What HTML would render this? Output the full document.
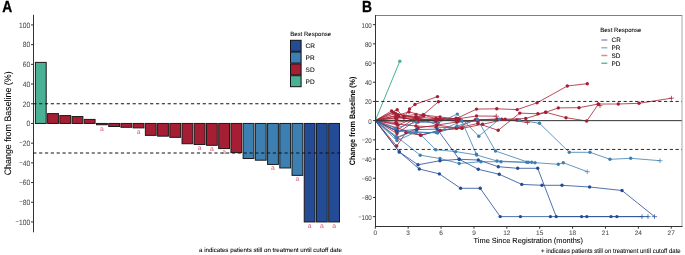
<!DOCTYPE html>
<html><head><meta charset="utf-8"><style>
html,body{margin:0;padding:0;background:#fff;width:685px;height:255px;overflow:hidden}
svg{display:block;font-family:"Liberation Sans", sans-serif;will-change:transform;text-rendering:geometricPrecision}
</style></head><body>
<svg width="685" height="255" viewBox="0 0 685 255">
<rect width="685" height="255" fill="#fff"/>
<text transform="translate(2.30,11.70) scale(0.86,1)" font-size="16" font-weight="bold" fill="#000" stroke="#000" stroke-width="0.35">A</text>
<line x1="33.5" y1="14.8" x2="33.5" y2="232.3" stroke="#333333" stroke-width="1.0"/>
<line x1="31.0" y1="24.95" x2="33.5" y2="24.95" stroke="#333333" stroke-width="1.0"/>
<text transform="translate(30.20,27.70) scale(0.87,1)" font-size="7.7" fill="#4D4D4D" stroke="#4D4D4D" stroke-width="0.06" text-anchor="end">100</text>
<line x1="31.0" y1="44.65" x2="33.5" y2="44.65" stroke="#333333" stroke-width="1.0"/>
<text transform="translate(30.20,47.40) scale(0.87,1)" font-size="7.7" fill="#4D4D4D" stroke="#4D4D4D" stroke-width="0.06" text-anchor="end">80</text>
<line x1="31.0" y1="64.35" x2="33.5" y2="64.35" stroke="#333333" stroke-width="1.0"/>
<text transform="translate(30.20,67.10) scale(0.87,1)" font-size="7.7" fill="#4D4D4D" stroke="#4D4D4D" stroke-width="0.06" text-anchor="end">60</text>
<line x1="31.0" y1="84.05" x2="33.5" y2="84.05" stroke="#333333" stroke-width="1.0"/>
<text transform="translate(30.20,86.80) scale(0.87,1)" font-size="7.7" fill="#4D4D4D" stroke="#4D4D4D" stroke-width="0.06" text-anchor="end">40</text>
<line x1="31.0" y1="103.75" x2="33.5" y2="103.75" stroke="#333333" stroke-width="1.0"/>
<text transform="translate(30.20,106.50) scale(0.87,1)" font-size="7.7" fill="#4D4D4D" stroke="#4D4D4D" stroke-width="0.06" text-anchor="end">20</text>
<line x1="31.0" y1="123.45" x2="33.5" y2="123.45" stroke="#333333" stroke-width="1.0"/>
<text transform="translate(30.20,126.20) scale(0.87,1)" font-size="7.7" fill="#4D4D4D" stroke="#4D4D4D" stroke-width="0.06" text-anchor="end">0</text>
<line x1="31.0" y1="143.15" x2="33.5" y2="143.15" stroke="#333333" stroke-width="1.0"/>
<text transform="translate(30.20,145.90) scale(0.87,1)" font-size="7.7" fill="#4D4D4D" stroke="#4D4D4D" stroke-width="0.06" text-anchor="end"><tspan font-size="6.8" dy="-0.75">−</tspan><tspan dy="0.75">20</tspan></text>
<line x1="31.0" y1="162.85" x2="33.5" y2="162.85" stroke="#333333" stroke-width="1.0"/>
<text transform="translate(30.20,165.60) scale(0.87,1)" font-size="7.7" fill="#4D4D4D" stroke="#4D4D4D" stroke-width="0.06" text-anchor="end"><tspan font-size="6.8" dy="-0.75">−</tspan><tspan dy="0.75">40</tspan></text>
<line x1="31.0" y1="182.55" x2="33.5" y2="182.55" stroke="#333333" stroke-width="1.0"/>
<text transform="translate(30.20,185.30) scale(0.87,1)" font-size="7.7" fill="#4D4D4D" stroke="#4D4D4D" stroke-width="0.06" text-anchor="end"><tspan font-size="6.8" dy="-0.75">−</tspan><tspan dy="0.75">60</tspan></text>
<line x1="31.0" y1="202.25" x2="33.5" y2="202.25" stroke="#333333" stroke-width="1.0"/>
<text transform="translate(30.20,205.00) scale(0.87,1)" font-size="7.7" fill="#4D4D4D" stroke="#4D4D4D" stroke-width="0.06" text-anchor="end"><tspan font-size="6.8" dy="-0.75">−</tspan><tspan dy="0.75">80</tspan></text>
<line x1="31.0" y1="221.95" x2="33.5" y2="221.95" stroke="#333333" stroke-width="1.0"/>
<text transform="translate(30.20,224.70) scale(0.87,1)" font-size="7.7" fill="#4D4D4D" stroke="#4D4D4D" stroke-width="0.06" text-anchor="end"><tspan font-size="6.8" dy="-0.75">−</tspan><tspan dy="0.75">100</tspan></text>
<text transform="translate(11.00,123.35) rotate(-90) scale(0.945,1)" font-size="9.4" fill="#000" stroke="#000" stroke-width="0.06" text-anchor="middle">Change from Baseline (%)</text>
<rect x="35.40" y="62.38" width="10.80" height="61.07" fill="#4BB194" stroke="#1a1a1a" stroke-width="1"/>
<rect x="47.62" y="113.60" width="10.80" height="9.85" fill="#A61E34" stroke="#1a1a1a" stroke-width="1"/>
<rect x="59.84" y="115.57" width="10.80" height="7.88" fill="#A61E34" stroke="#1a1a1a" stroke-width="1"/>
<rect x="72.06" y="116.56" width="10.80" height="6.89" fill="#A61E34" stroke="#1a1a1a" stroke-width="1"/>
<rect x="84.28" y="119.41" width="10.80" height="4.04" fill="#A61E34" stroke="#1a1a1a" stroke-width="1"/>
<rect x="96.50" y="123.45" width="10.80" height="1.28" fill="#A61E34" stroke="#1a1a1a" stroke-width="1"/>
<rect x="108.72" y="123.45" width="10.80" height="3.05" fill="#A61E34" stroke="#1a1a1a" stroke-width="1"/>
<rect x="120.94" y="123.45" width="10.80" height="3.84" fill="#A61E34" stroke="#1a1a1a" stroke-width="1"/>
<rect x="133.16" y="123.45" width="10.80" height="4.43" fill="#A61E34" stroke="#1a1a1a" stroke-width="1"/>
<rect x="145.38" y="123.45" width="10.80" height="11.92" fill="#A61E34" stroke="#1a1a1a" stroke-width="1"/>
<rect x="157.60" y="123.45" width="10.80" height="12.71" fill="#A61E34" stroke="#1a1a1a" stroke-width="1"/>
<rect x="169.82" y="123.45" width="10.80" height="13.89" fill="#A61E34" stroke="#1a1a1a" stroke-width="1"/>
<rect x="182.04" y="123.45" width="10.80" height="20.29" fill="#A61E34" stroke="#1a1a1a" stroke-width="1"/>
<rect x="194.26" y="123.45" width="10.80" height="21.08" fill="#A61E34" stroke="#1a1a1a" stroke-width="1"/>
<rect x="206.48" y="123.45" width="10.80" height="21.87" fill="#A61E34" stroke="#1a1a1a" stroke-width="1"/>
<rect x="218.70" y="123.45" width="10.80" height="25.12" fill="#A61E34" stroke="#1a1a1a" stroke-width="1"/>
<rect x="230.92" y="123.45" width="10.80" height="29.16" fill="#A61E34" stroke="#1a1a1a" stroke-width="1"/>
<rect x="243.14" y="123.45" width="10.80" height="35.07" fill="#3E7FB1" stroke="#1a1a1a" stroke-width="1"/>
<rect x="255.36" y="123.45" width="10.80" height="36.74" fill="#3E7FB1" stroke="#1a1a1a" stroke-width="1"/>
<rect x="267.58" y="123.45" width="10.80" height="40.98" fill="#3E7FB1" stroke="#1a1a1a" stroke-width="1"/>
<rect x="279.80" y="123.45" width="10.80" height="44.52" fill="#3E7FB1" stroke="#1a1a1a" stroke-width="1"/>
<rect x="292.02" y="123.45" width="10.80" height="51.91" fill="#3E7FB1" stroke="#1a1a1a" stroke-width="1"/>
<rect x="304.24" y="123.45" width="10.80" height="98.50" fill="#244C96" stroke="#1a1a1a" stroke-width="1"/>
<rect x="316.46" y="123.45" width="10.80" height="98.50" fill="#244C96" stroke="#1a1a1a" stroke-width="1"/>
<rect x="328.68" y="123.45" width="10.80" height="98.50" fill="#244C96" stroke="#1a1a1a" stroke-width="1"/>
<text transform="translate(101.90,130.63) scale(1.0,1)" font-size="6.8" fill="#DA5A72" text-anchor="middle">a</text>
<text transform="translate(138.56,133.78) scale(1.0,1)" font-size="6.8" fill="#DA5A72" text-anchor="middle">a</text>
<text transform="translate(199.66,150.43) scale(1.0,1)" font-size="6.8" fill="#DA5A72" text-anchor="middle">a</text>
<text transform="translate(211.88,151.22) scale(1.0,1)" font-size="6.8" fill="#DA5A72" text-anchor="middle">a</text>
<text transform="translate(224.10,154.47) scale(1.0,1)" font-size="6.8" fill="#DA5A72" text-anchor="middle">a</text>
<text transform="translate(272.98,170.33) scale(1.0,1)" font-size="6.8" fill="#DA5A72" text-anchor="middle">a</text>
<text transform="translate(297.42,181.26) scale(1.0,1)" font-size="6.8" fill="#DA5A72" text-anchor="middle">a</text>
<text transform="translate(309.64,227.85) scale(1.0,1)" font-size="6.8" fill="#DA5A72" text-anchor="middle">a</text>
<text transform="translate(321.86,227.85) scale(1.0,1)" font-size="6.8" fill="#DA5A72" text-anchor="middle">a</text>
<text transform="translate(334.08,227.85) scale(1.0,1)" font-size="6.8" fill="#DA5A72" text-anchor="middle">a</text>
<line x1="33.26" y1="103.75" x2="340.4" y2="103.75" stroke="#111" stroke-width="1.0" stroke-dasharray="3.2 2.643"/>
<line x1="33.26" y1="153.00" x2="340.4" y2="153.00" stroke="#111" stroke-width="1.0" stroke-dasharray="3.2 2.643"/>
<text transform="translate(290.20,35.70) scale(1.0,1)" font-size="6.05" fill="#000" stroke="#000" stroke-width="0.06">Best Response</text>
<rect x="290.5" y="40.30" width="10.6" height="11.0" fill="#244C96" stroke="#111" stroke-width="1"/>
<text transform="translate(305.60,48.10) scale(1.0,1)" font-size="6.5" fill="#000" stroke="#000" stroke-width="0.06">CR</text>
<rect x="290.5" y="52.10" width="10.6" height="11.0" fill="#3E7FB1" stroke="#111" stroke-width="1"/>
<text transform="translate(305.60,59.90) scale(1.0,1)" font-size="6.5" fill="#000" stroke="#000" stroke-width="0.06">PR</text>
<rect x="290.5" y="63.90" width="10.6" height="11.0" fill="#A61E34" stroke="#111" stroke-width="1"/>
<text transform="translate(305.60,71.70) scale(1.0,1)" font-size="6.5" fill="#000" stroke="#000" stroke-width="0.06">SD</text>
<rect x="290.5" y="75.70" width="10.6" height="11.0" fill="#4BB194" stroke="#111" stroke-width="1"/>
<text transform="translate(305.60,83.50) scale(1.0,1)" font-size="6.5" fill="#000" stroke="#000" stroke-width="0.06">PD</text>
<text transform="translate(199.00,252.00) scale(1.0,1)" font-size="6.17" fill="#000" stroke="#000" stroke-width="0.06">a indicates patients still on treatment until cutoff date</text>
<text transform="translate(362.10,11.50) scale(0.86,1)" font-size="16" font-weight="bold" fill="#000" stroke="#000" stroke-width="0.35">B</text>
<line x1="375.5" y1="15.5" x2="682.3" y2="15.5" stroke="#7f7f7f" stroke-width="1"/>
<line x1="682.0" y1="15.5" x2="682.0" y2="226.5" stroke="#a8a8a8" stroke-width="1"/>
<polyline points="375.3,120.5 399.8,61.3" fill="none" stroke="#4BB194" stroke-width="1.0" stroke-linejoin="round"/>
<polyline points="375.3,120.5 391.6,110.9 398.4,116.2 416.0,116.8 423.0,115.0 438.4,101.8" fill="none" stroke="#A61E34" stroke-width="0.8" stroke-linejoin="round"/>
<polyline points="375.3,120.5 397.2,109.7 404.0,118.0 409.5,108.9 415.0,104.4 437.5,96.6" fill="none" stroke="#A61E34" stroke-width="0.8" stroke-linejoin="round"/>
<polyline points="375.3,120.5 396.2,130.9 416.5,117.1 436.1,118.6 456.5,118.6 476.5,109.1 496.8,108.8 517.2,109.6 537.1,102.8 567.3,86.0 587.3,83.7" fill="none" stroke="#A61E34" stroke-width="0.8" stroke-linejoin="round"/>
<polyline points="375.3,120.5 396.7,146.0 405.9,132.6 420.4,135.1 440.0,130.4 456.5,128.0 477.8,123.5 498.2,130.3 519.8,113.1 537.9,113.8 545.7,112.3 558.3,107.9 579.0,107.7 598.3,104.0 618.3,104.0 639.0,103.3 671.5,98.2" fill="none" stroke="#A61E34" stroke-width="0.8" stroke-linejoin="round"/>
<polyline points="375.3,120.5 397.0,133.5 423.5,115.0 436.1,118.6 458.0,118.8 476.5,116.0 496.3,116.2" fill="none" stroke="#A61E34" stroke-width="0.8" stroke-linejoin="round"/>
<polyline points="375.3,120.5 398.0,125.0 416.5,117.1 436.9,124.9 456.6,128.0 475.4,119.6 501.8,119.3 525.8,118.5 545.7,112.3 566.0,117.7 586.7,121.0 598.3,104.3 600.0,105.6" fill="none" stroke="#A61E34" stroke-width="0.8" stroke-linejoin="round"/>
<polyline points="375.3,120.5 397.0,128.0 420.9,135.3 440.0,130.4 462.0,128.3 482.5,124.3 505.2,119.3 527.4,122.5" fill="none" stroke="#A61E34" stroke-width="0.8" stroke-linejoin="round"/>
<polyline points="375.3,120.5 396.0,122.5 416.5,119.0 436.0,121.0 456.0,118.3" fill="none" stroke="#A61E34" stroke-width="0.8" stroke-linejoin="round"/>
<polyline points="375.3,120.5 395.5,118.0 415.6,117.6 423.5,115.0 440.0,117.0 458.4,119.0" fill="none" stroke="#A61E34" stroke-width="0.8" stroke-linejoin="round"/>
<polyline points="375.3,120.5 396.5,124.0 416.0,126.0 436.0,127.0 456.6,128.0 462.0,128.3" fill="none" stroke="#A61E34" stroke-width="0.8" stroke-linejoin="round"/>
<polyline points="375.3,120.5 397.0,138.0 418.0,128.0 437.0,125.0 457.0,122.0 478.0,121.0" fill="none" stroke="#A61E34" stroke-width="0.8" stroke-linejoin="round"/>
<polyline points="375.3,120.5 396.0,116.0 417.0,121.0 436.0,118.6 457.0,121.5 477.0,120.0 497.0,119.0 517.0,120.0" fill="none" stroke="#A61E34" stroke-width="0.8" stroke-linejoin="round"/>
<polyline points="375.3,120.5 396.8,120.0 418.0,122.0 438.0,120.0 460.0,120.0" fill="none" stroke="#A61E34" stroke-width="0.8" stroke-linejoin="round"/>
<polyline points="375.3,120.5 395.5,113.5 416.2,117.7 436.0,121.5" fill="none" stroke="#A61E34" stroke-width="0.8" stroke-linejoin="round"/>
<polyline points="375.3,120.5 398.0,115.0 409.0,112.0 424.0,115.5" fill="none" stroke="#A61E34" stroke-width="0.8" stroke-linejoin="round"/>
<polyline points="375.3,120.5 397.0,117.5 418.0,119.5 436.5,119.5 457.0,119.8" fill="none" stroke="#A61E34" stroke-width="0.8" stroke-linejoin="round"/>
<polyline points="375.3,120.5 393.5,112.5 404.0,116.0 416.0,114.5" fill="none" stroke="#A61E34" stroke-width="0.8" stroke-linejoin="round"/>
<polyline points="375.3,120.5 395.3,128.2 416.5,122.2 438.5,122.6 457.3,114.1 478.8,136.2 499.4,119.2 519.5,120.1 539.5,123.3 569.3,152.3 590.0,152.3 610.0,159.3 630.7,158.3 660.0,160.7" fill="none" stroke="#3E7FB1" stroke-width="0.8" stroke-linejoin="round"/>
<polyline points="375.3,120.5 397.0,140.6 416.4,131.8 437.5,133.0 457.0,126.0 477.5,119.5 495.5,151.0 528.3,162.3 531.7,162.3" fill="none" stroke="#3E7FB1" stroke-width="0.8" stroke-linejoin="round"/>
<polyline points="375.3,120.5 396.5,136.5 420.2,155.2 440.0,158.5 459.2,163.5 481.0,161.7 501.0,161.7 526.7,162.3" fill="none" stroke="#3E7FB1" stroke-width="0.8" stroke-linejoin="round"/>
<polyline points="375.3,120.5 396.0,137.4 416.6,130.5 435.8,149.7 455.7,151.6 476.7,155.0 497.0,161.0 535.0,162.7 558.3,164.3 563.3,162.7 587.3,171.7" fill="none" stroke="#3E7FB1" stroke-width="0.8" stroke-linejoin="round"/>
<polyline points="375.3,120.5 397.5,131.0 416.0,132.8 436.1,132.3 461.8,121.0 476.3,154.1" fill="none" stroke="#3E7FB1" stroke-width="0.8" stroke-linejoin="round"/>
<polyline points="375.3,120.5 399.3,151.9 418.0,164.8 440.0,160.7 459.2,159.3 478.3,160.0 498.3,166.7 517.7,168.3 537.7,168.3 556.2,216.6 586.8,216.6 616.9,216.6 648.0,216.6" fill="none" stroke="#244C96" stroke-width="0.8" stroke-linejoin="round"/>
<polyline points="375.3,120.5 399.3,151.9 419.3,169.0 439.4,173.9 460.6,188.3 480.2,188.3 500.2,216.6 520.4,216.6 550.4,216.6 581.6,216.6 611.0,216.6 642.0,216.6" fill="none" stroke="#244C96" stroke-width="0.8" stroke-linejoin="round"/>
<polyline points="375.3,120.5 397.0,131.0 416.5,129.6 437.2,129.1 459.2,159.3 478.3,169.3 499.3,174.3 521.8,184.4 542.0,185.3 562.0,185.3 589.6,187.0 622.0,190.5 654.5,216.6" fill="none" stroke="#244C96" stroke-width="0.8" stroke-linejoin="round"/>
<line x1="375.5" y1="120.65" x2="681.8" y2="120.65" stroke="#333" stroke-width="1"/>
<line x1="375.5" y1="101.45" x2="681.8" y2="101.45" stroke="#111" stroke-width="0.9" stroke-dasharray="3.2 2.57"/>
<line x1="375.5" y1="149.45" x2="681.8" y2="149.45" stroke="#111" stroke-width="0.9" stroke-dasharray="3.2 2.57"/>
<circle cx="399.8" cy="61.3" r="1.7" fill="#4BB194"/>
<circle cx="391.6" cy="110.9" r="1.7" fill="#A61E34"/>
<circle cx="398.4" cy="116.2" r="1.7" fill="#A61E34"/>
<circle cx="416.0" cy="116.8" r="1.7" fill="#A61E34"/>
<circle cx="423.0" cy="115.0" r="1.7" fill="#A61E34"/>
<circle cx="438.4" cy="101.8" r="1.7" fill="#A61E34"/>
<circle cx="397.2" cy="109.7" r="1.7" fill="#A61E34"/>
<circle cx="404.0" cy="118.0" r="1.7" fill="#A61E34"/>
<circle cx="409.5" cy="108.9" r="1.7" fill="#A61E34"/>
<circle cx="415.0" cy="104.4" r="1.7" fill="#A61E34"/>
<circle cx="437.5" cy="96.6" r="1.7" fill="#A61E34"/>
<circle cx="396.2" cy="130.9" r="1.7" fill="#A61E34"/>
<circle cx="416.5" cy="117.1" r="1.7" fill="#A61E34"/>
<circle cx="436.1" cy="118.6" r="1.7" fill="#A61E34"/>
<circle cx="456.5" cy="118.6" r="1.7" fill="#A61E34"/>
<circle cx="476.5" cy="109.1" r="1.7" fill="#A61E34"/>
<circle cx="496.8" cy="108.8" r="1.7" fill="#A61E34"/>
<circle cx="517.2" cy="109.6" r="1.7" fill="#A61E34"/>
<circle cx="537.1" cy="102.8" r="1.7" fill="#A61E34"/>
<circle cx="567.3" cy="86.0" r="1.7" fill="#A61E34"/>
<circle cx="587.3" cy="83.7" r="1.7" fill="#A61E34"/>
<circle cx="396.7" cy="146.0" r="1.7" fill="#A61E34"/>
<circle cx="405.9" cy="132.6" r="1.7" fill="#A61E34"/>
<circle cx="420.4" cy="135.1" r="1.7" fill="#A61E34"/>
<circle cx="440.0" cy="130.4" r="1.7" fill="#A61E34"/>
<circle cx="456.5" cy="128.0" r="1.7" fill="#A61E34"/>
<circle cx="477.8" cy="123.5" r="1.7" fill="#A61E34"/>
<circle cx="498.2" cy="130.3" r="1.7" fill="#A61E34"/>
<circle cx="519.8" cy="113.1" r="1.7" fill="#A61E34"/>
<circle cx="537.9" cy="113.8" r="1.7" fill="#A61E34"/>
<circle cx="545.7" cy="112.3" r="1.7" fill="#A61E34"/>
<circle cx="558.3" cy="107.9" r="1.7" fill="#A61E34"/>
<circle cx="579.0" cy="107.7" r="1.7" fill="#A61E34"/>
<circle cx="598.3" cy="104.0" r="1.7" fill="#A61E34"/>
<circle cx="618.3" cy="104.0" r="1.7" fill="#A61E34"/>
<circle cx="639.0" cy="103.3" r="1.7" fill="#A61E34"/>
<path d="M668.9 98.2H674.1M671.5 95.8V100.6" stroke="#A61E34" stroke-width="0.7"/>
<circle cx="397.0" cy="133.5" r="1.7" fill="#A61E34"/>
<circle cx="423.5" cy="115.0" r="1.7" fill="#A61E34"/>
<circle cx="436.1" cy="118.6" r="1.7" fill="#A61E34"/>
<circle cx="458.0" cy="118.8" r="1.7" fill="#A61E34"/>
<circle cx="476.5" cy="116.0" r="1.7" fill="#A61E34"/>
<path d="M493.7 116.2H498.9M496.3 113.8V118.6" stroke="#A61E34" stroke-width="0.7"/>
<circle cx="398.0" cy="125.0" r="1.7" fill="#A61E34"/>
<circle cx="416.5" cy="117.1" r="1.7" fill="#A61E34"/>
<circle cx="436.9" cy="124.9" r="1.7" fill="#A61E34"/>
<circle cx="456.6" cy="128.0" r="1.7" fill="#A61E34"/>
<circle cx="475.4" cy="119.6" r="1.7" fill="#A61E34"/>
<circle cx="501.8" cy="119.3" r="1.7" fill="#A61E34"/>
<circle cx="525.8" cy="118.5" r="1.7" fill="#A61E34"/>
<circle cx="545.7" cy="112.3" r="1.7" fill="#A61E34"/>
<circle cx="566.0" cy="117.7" r="1.7" fill="#A61E34"/>
<circle cx="586.7" cy="121.0" r="1.7" fill="#A61E34"/>
<circle cx="598.3" cy="104.3" r="1.7" fill="#A61E34"/>
<path d="M597.4 105.6H602.6M600.0 103.2V108.0" stroke="#A61E34" stroke-width="0.7"/>
<circle cx="397.0" cy="128.0" r="1.7" fill="#A61E34"/>
<circle cx="420.9" cy="135.3" r="1.7" fill="#A61E34"/>
<circle cx="440.0" cy="130.4" r="1.7" fill="#A61E34"/>
<circle cx="462.0" cy="128.3" r="1.7" fill="#A61E34"/>
<circle cx="482.5" cy="124.3" r="1.7" fill="#A61E34"/>
<circle cx="505.2" cy="119.3" r="1.7" fill="#A61E34"/>
<path d="M524.8 122.5H530.0M527.4 120.1V124.9" stroke="#A61E34" stroke-width="0.7"/>
<circle cx="396.0" cy="122.5" r="1.7" fill="#A61E34"/>
<circle cx="416.5" cy="119.0" r="1.7" fill="#A61E34"/>
<circle cx="436.0" cy="121.0" r="1.7" fill="#A61E34"/>
<circle cx="456.0" cy="118.3" r="1.7" fill="#A61E34"/>
<circle cx="395.5" cy="118.0" r="1.7" fill="#A61E34"/>
<circle cx="415.6" cy="117.6" r="1.7" fill="#A61E34"/>
<circle cx="423.5" cy="115.0" r="1.7" fill="#A61E34"/>
<circle cx="440.0" cy="117.0" r="1.7" fill="#A61E34"/>
<circle cx="458.4" cy="119.0" r="1.7" fill="#A61E34"/>
<circle cx="396.5" cy="124.0" r="1.7" fill="#A61E34"/>
<circle cx="416.0" cy="126.0" r="1.7" fill="#A61E34"/>
<circle cx="436.0" cy="127.0" r="1.7" fill="#A61E34"/>
<circle cx="456.6" cy="128.0" r="1.7" fill="#A61E34"/>
<circle cx="462.0" cy="128.3" r="1.7" fill="#A61E34"/>
<circle cx="397.0" cy="138.0" r="1.7" fill="#A61E34"/>
<circle cx="418.0" cy="128.0" r="1.7" fill="#A61E34"/>
<circle cx="437.0" cy="125.0" r="1.7" fill="#A61E34"/>
<circle cx="457.0" cy="122.0" r="1.7" fill="#A61E34"/>
<circle cx="478.0" cy="121.0" r="1.7" fill="#A61E34"/>
<circle cx="396.0" cy="116.0" r="1.7" fill="#A61E34"/>
<circle cx="417.0" cy="121.0" r="1.7" fill="#A61E34"/>
<circle cx="436.0" cy="118.6" r="1.7" fill="#A61E34"/>
<circle cx="457.0" cy="121.5" r="1.7" fill="#A61E34"/>
<circle cx="477.0" cy="120.0" r="1.7" fill="#A61E34"/>
<circle cx="497.0" cy="119.0" r="1.7" fill="#A61E34"/>
<circle cx="517.0" cy="120.0" r="1.7" fill="#A61E34"/>
<circle cx="396.8" cy="120.0" r="1.7" fill="#A61E34"/>
<circle cx="418.0" cy="122.0" r="1.7" fill="#A61E34"/>
<circle cx="438.0" cy="120.0" r="1.7" fill="#A61E34"/>
<circle cx="460.0" cy="120.0" r="1.7" fill="#A61E34"/>
<circle cx="395.5" cy="113.5" r="1.7" fill="#A61E34"/>
<circle cx="416.2" cy="117.7" r="1.7" fill="#A61E34"/>
<circle cx="436.0" cy="121.5" r="1.7" fill="#A61E34"/>
<circle cx="398.0" cy="115.0" r="1.7" fill="#A61E34"/>
<circle cx="409.0" cy="112.0" r="1.7" fill="#A61E34"/>
<circle cx="424.0" cy="115.5" r="1.7" fill="#A61E34"/>
<circle cx="397.0" cy="117.5" r="1.7" fill="#A61E34"/>
<circle cx="418.0" cy="119.5" r="1.7" fill="#A61E34"/>
<circle cx="436.5" cy="119.5" r="1.7" fill="#A61E34"/>
<circle cx="457.0" cy="119.8" r="1.7" fill="#A61E34"/>
<circle cx="393.5" cy="112.5" r="1.7" fill="#A61E34"/>
<circle cx="404.0" cy="116.0" r="1.7" fill="#A61E34"/>
<circle cx="416.0" cy="114.5" r="1.7" fill="#A61E34"/>
<circle cx="395.3" cy="128.2" r="1.7" fill="#3E7FB1"/>
<circle cx="416.5" cy="122.2" r="1.7" fill="#3E7FB1"/>
<circle cx="438.5" cy="122.6" r="1.7" fill="#3E7FB1"/>
<circle cx="457.3" cy="114.1" r="1.7" fill="#3E7FB1"/>
<circle cx="478.8" cy="136.2" r="1.7" fill="#3E7FB1"/>
<circle cx="499.4" cy="119.2" r="1.7" fill="#3E7FB1"/>
<circle cx="519.5" cy="120.1" r="1.7" fill="#3E7FB1"/>
<circle cx="539.5" cy="123.3" r="1.7" fill="#3E7FB1"/>
<circle cx="569.3" cy="152.3" r="1.7" fill="#3E7FB1"/>
<circle cx="590.0" cy="152.3" r="1.7" fill="#3E7FB1"/>
<circle cx="610.0" cy="159.3" r="1.7" fill="#3E7FB1"/>
<circle cx="630.7" cy="158.3" r="1.7" fill="#3E7FB1"/>
<path d="M657.4 160.7H662.6M660.0 158.3V163.1" stroke="#3E7FB1" stroke-width="0.7"/>
<circle cx="397.0" cy="140.6" r="1.7" fill="#3E7FB1"/>
<circle cx="416.4" cy="131.8" r="1.7" fill="#3E7FB1"/>
<circle cx="437.5" cy="133.0" r="1.7" fill="#3E7FB1"/>
<circle cx="457.0" cy="126.0" r="1.7" fill="#3E7FB1"/>
<circle cx="477.5" cy="119.5" r="1.7" fill="#3E7FB1"/>
<circle cx="495.5" cy="151.0" r="1.7" fill="#3E7FB1"/>
<circle cx="528.3" cy="162.3" r="1.7" fill="#3E7FB1"/>
<circle cx="531.7" cy="162.3" r="1.7" fill="#3E7FB1"/>
<circle cx="396.5" cy="136.5" r="1.7" fill="#3E7FB1"/>
<circle cx="420.2" cy="155.2" r="1.7" fill="#3E7FB1"/>
<circle cx="440.0" cy="158.5" r="1.7" fill="#3E7FB1"/>
<circle cx="459.2" cy="163.5" r="1.7" fill="#3E7FB1"/>
<circle cx="481.0" cy="161.7" r="1.7" fill="#3E7FB1"/>
<circle cx="501.0" cy="161.7" r="1.7" fill="#3E7FB1"/>
<circle cx="526.7" cy="162.3" r="1.7" fill="#3E7FB1"/>
<circle cx="396.0" cy="137.4" r="1.7" fill="#3E7FB1"/>
<circle cx="416.6" cy="130.5" r="1.7" fill="#3E7FB1"/>
<circle cx="435.8" cy="149.7" r="1.7" fill="#3E7FB1"/>
<circle cx="455.7" cy="151.6" r="1.7" fill="#3E7FB1"/>
<circle cx="476.7" cy="155.0" r="1.7" fill="#3E7FB1"/>
<circle cx="497.0" cy="161.0" r="1.7" fill="#3E7FB1"/>
<circle cx="535.0" cy="162.7" r="1.7" fill="#3E7FB1"/>
<circle cx="558.3" cy="164.3" r="1.7" fill="#3E7FB1"/>
<circle cx="563.3" cy="162.7" r="1.7" fill="#3E7FB1"/>
<path d="M584.7 171.7H589.9M587.3 169.3V174.1" stroke="#3E7FB1" stroke-width="0.7"/>
<circle cx="397.5" cy="131.0" r="1.7" fill="#3E7FB1"/>
<circle cx="416.0" cy="132.8" r="1.7" fill="#3E7FB1"/>
<circle cx="436.1" cy="132.3" r="1.7" fill="#3E7FB1"/>
<circle cx="461.8" cy="121.0" r="1.7" fill="#3E7FB1"/>
<circle cx="476.3" cy="154.1" r="1.7" fill="#3E7FB1"/>
<circle cx="399.3" cy="151.9" r="1.7" fill="#244C96"/>
<circle cx="418.0" cy="164.8" r="1.7" fill="#244C96"/>
<circle cx="440.0" cy="160.7" r="1.7" fill="#244C96"/>
<circle cx="459.2" cy="159.3" r="1.7" fill="#244C96"/>
<circle cx="478.3" cy="160.0" r="1.7" fill="#244C96"/>
<circle cx="498.3" cy="166.7" r="1.7" fill="#244C96"/>
<circle cx="517.7" cy="168.3" r="1.7" fill="#244C96"/>
<circle cx="537.7" cy="168.3" r="1.7" fill="#244C96"/>
<circle cx="556.2" cy="216.6" r="1.7" fill="#244C96"/>
<circle cx="586.8" cy="216.6" r="1.7" fill="#244C96"/>
<circle cx="616.9" cy="216.6" r="1.7" fill="#244C96"/>
<path d="M645.4 216.6H650.6M648.0 214.2V219.0" stroke="#244C96" stroke-width="0.7"/>
<circle cx="399.3" cy="151.9" r="1.7" fill="#244C96"/>
<circle cx="419.3" cy="169.0" r="1.7" fill="#244C96"/>
<circle cx="439.4" cy="173.9" r="1.7" fill="#244C96"/>
<circle cx="460.6" cy="188.3" r="1.7" fill="#244C96"/>
<circle cx="480.2" cy="188.3" r="1.7" fill="#244C96"/>
<circle cx="500.2" cy="216.6" r="1.7" fill="#244C96"/>
<circle cx="520.4" cy="216.6" r="1.7" fill="#244C96"/>
<circle cx="550.4" cy="216.6" r="1.7" fill="#244C96"/>
<circle cx="581.6" cy="216.6" r="1.7" fill="#244C96"/>
<circle cx="611.0" cy="216.6" r="1.7" fill="#244C96"/>
<path d="M639.4 216.6H644.6M642.0 214.2V219.0" stroke="#244C96" stroke-width="0.7"/>
<circle cx="397.0" cy="131.0" r="1.7" fill="#244C96"/>
<circle cx="416.5" cy="129.6" r="1.7" fill="#244C96"/>
<circle cx="437.2" cy="129.1" r="1.7" fill="#244C96"/>
<circle cx="459.2" cy="159.3" r="1.7" fill="#244C96"/>
<circle cx="478.3" cy="169.3" r="1.7" fill="#244C96"/>
<circle cx="499.3" cy="174.3" r="1.7" fill="#244C96"/>
<circle cx="521.8" cy="184.4" r="1.7" fill="#244C96"/>
<circle cx="542.0" cy="185.3" r="1.7" fill="#244C96"/>
<circle cx="562.0" cy="185.3" r="1.7" fill="#244C96"/>
<circle cx="589.6" cy="187.0" r="1.7" fill="#244C96"/>
<circle cx="622.0" cy="190.5" r="1.7" fill="#244C96"/>
<path d="M651.9 216.6H657.1M654.5 214.2V219.0" stroke="#244C96" stroke-width="0.7"/>
<line x1="375.5" y1="15.0" x2="375.5" y2="227.0" stroke="#333333" stroke-width="1.0"/>
<line x1="375.0" y1="226.5" x2="682.5" y2="226.5" stroke="#333333" stroke-width="1.0"/>
<line x1="372.9" y1="24.65" x2="375.5" y2="24.65" stroke="#333333" stroke-width="1"/>
<text transform="translate(371.80,27.65) scale(0.9,1)" font-size="6.9" fill="#4D4D4D" stroke="#4D4D4D" stroke-width="0.06" text-anchor="end">100</text>
<line x1="372.9" y1="43.85" x2="375.5" y2="43.85" stroke="#333333" stroke-width="1"/>
<text transform="translate(371.80,46.85) scale(0.9,1)" font-size="6.9" fill="#4D4D4D" stroke="#4D4D4D" stroke-width="0.06" text-anchor="end">80</text>
<line x1="372.9" y1="63.05" x2="375.5" y2="63.05" stroke="#333333" stroke-width="1"/>
<text transform="translate(371.80,66.05) scale(0.9,1)" font-size="6.9" fill="#4D4D4D" stroke="#4D4D4D" stroke-width="0.06" text-anchor="end">60</text>
<line x1="372.9" y1="82.25" x2="375.5" y2="82.25" stroke="#333333" stroke-width="1"/>
<text transform="translate(371.80,85.25) scale(0.9,1)" font-size="6.9" fill="#4D4D4D" stroke="#4D4D4D" stroke-width="0.06" text-anchor="end">40</text>
<line x1="372.9" y1="101.45" x2="375.5" y2="101.45" stroke="#333333" stroke-width="1"/>
<text transform="translate(371.80,104.45) scale(0.9,1)" font-size="6.9" fill="#4D4D4D" stroke="#4D4D4D" stroke-width="0.06" text-anchor="end">20</text>
<line x1="372.9" y1="120.65" x2="375.5" y2="120.65" stroke="#333333" stroke-width="1"/>
<text transform="translate(371.80,123.65) scale(0.9,1)" font-size="6.9" fill="#4D4D4D" stroke="#4D4D4D" stroke-width="0.06" text-anchor="end">0</text>
<line x1="372.9" y1="139.85" x2="375.5" y2="139.85" stroke="#333333" stroke-width="1"/>
<text transform="translate(371.80,142.85) scale(0.9,1)" font-size="6.9" fill="#4D4D4D" stroke="#4D4D4D" stroke-width="0.06" text-anchor="end"><tspan font-size="6.1" dy="-0.65">−</tspan><tspan dy="0.65">20</tspan></text>
<line x1="372.9" y1="159.05" x2="375.5" y2="159.05" stroke="#333333" stroke-width="1"/>
<text transform="translate(371.80,162.05) scale(0.9,1)" font-size="6.9" fill="#4D4D4D" stroke="#4D4D4D" stroke-width="0.06" text-anchor="end"><tspan font-size="6.1" dy="-0.65">−</tspan><tspan dy="0.65">40</tspan></text>
<line x1="372.9" y1="178.25" x2="375.5" y2="178.25" stroke="#333333" stroke-width="1"/>
<text transform="translate(371.80,181.25) scale(0.9,1)" font-size="6.9" fill="#4D4D4D" stroke="#4D4D4D" stroke-width="0.06" text-anchor="end"><tspan font-size="6.1" dy="-0.65">−</tspan><tspan dy="0.65">60</tspan></text>
<line x1="372.9" y1="197.45" x2="375.5" y2="197.45" stroke="#333333" stroke-width="1"/>
<text transform="translate(371.80,200.45) scale(0.9,1)" font-size="6.9" fill="#4D4D4D" stroke="#4D4D4D" stroke-width="0.06" text-anchor="end"><tspan font-size="6.1" dy="-0.65">−</tspan><tspan dy="0.65">80</tspan></text>
<line x1="372.9" y1="216.65" x2="375.5" y2="216.65" stroke="#333333" stroke-width="1"/>
<text transform="translate(371.80,219.65) scale(0.9,1)" font-size="6.9" fill="#4D4D4D" stroke="#4D4D4D" stroke-width="0.06" text-anchor="end"><tspan font-size="6.1" dy="-0.65">−</tspan><tspan dy="0.65">100</tspan></text>
<line x1="375.30" y1="226.5" x2="375.30" y2="228.70" stroke="#333333" stroke-width="1"/>
<text transform="translate(375.30,234.50) scale(1.0,1)" font-size="6.5" fill="#4D4D4D" stroke="#4D4D4D" stroke-width="0.06" text-anchor="middle">0</text>
<line x1="408.18" y1="226.5" x2="408.18" y2="228.70" stroke="#333333" stroke-width="1"/>
<text transform="translate(408.18,234.50) scale(1.0,1)" font-size="6.5" fill="#4D4D4D" stroke="#4D4D4D" stroke-width="0.06" text-anchor="middle">3</text>
<line x1="441.06" y1="226.5" x2="441.06" y2="228.70" stroke="#333333" stroke-width="1"/>
<text transform="translate(441.06,234.50) scale(1.0,1)" font-size="6.5" fill="#4D4D4D" stroke="#4D4D4D" stroke-width="0.06" text-anchor="middle">6</text>
<line x1="473.94" y1="226.5" x2="473.94" y2="228.70" stroke="#333333" stroke-width="1"/>
<text transform="translate(473.94,234.50) scale(1.0,1)" font-size="6.5" fill="#4D4D4D" stroke="#4D4D4D" stroke-width="0.06" text-anchor="middle">9</text>
<line x1="506.82" y1="226.5" x2="506.82" y2="228.70" stroke="#333333" stroke-width="1"/>
<text transform="translate(506.82,234.50) scale(1.0,1)" font-size="6.5" fill="#4D4D4D" stroke="#4D4D4D" stroke-width="0.06" text-anchor="middle">12</text>
<line x1="539.70" y1="226.5" x2="539.70" y2="228.70" stroke="#333333" stroke-width="1"/>
<text transform="translate(539.70,234.50) scale(1.0,1)" font-size="6.5" fill="#4D4D4D" stroke="#4D4D4D" stroke-width="0.06" text-anchor="middle">15</text>
<line x1="572.58" y1="226.5" x2="572.58" y2="228.70" stroke="#333333" stroke-width="1"/>
<text transform="translate(572.58,234.50) scale(1.0,1)" font-size="6.5" fill="#4D4D4D" stroke="#4D4D4D" stroke-width="0.06" text-anchor="middle">18</text>
<line x1="605.46" y1="226.5" x2="605.46" y2="228.70" stroke="#333333" stroke-width="1"/>
<text transform="translate(605.46,234.50) scale(1.0,1)" font-size="6.5" fill="#4D4D4D" stroke="#4D4D4D" stroke-width="0.06" text-anchor="middle">21</text>
<line x1="638.34" y1="226.5" x2="638.34" y2="228.70" stroke="#333333" stroke-width="1"/>
<text transform="translate(638.34,234.50) scale(1.0,1)" font-size="6.5" fill="#4D4D4D" stroke="#4D4D4D" stroke-width="0.06" text-anchor="middle">24</text>
<line x1="671.22" y1="226.5" x2="671.22" y2="228.70" stroke="#333333" stroke-width="1"/>
<text transform="translate(671.22,234.50) scale(1.0,1)" font-size="6.5" fill="#4D4D4D" stroke="#4D4D4D" stroke-width="0.06" text-anchor="middle">27</text>
<text transform="translate(355.00,120.90) rotate(-90) scale(0.905,1)" font-size="7.9" font-weight="bold" fill="#000" text-anchor="middle">Change from Baseline (%)</text>
<text transform="translate(473.60,243.20) scale(1.0,1)" font-size="7.4" fill="#000" stroke="#000" stroke-width="0.06">Time Since Registration (months)</text>
<text transform="translate(541.00,253.30) scale(0.94,1)" font-size="6.4" fill="#000" stroke="#000" stroke-width="0.06">+ indicates patients still on treatment until cutoff date</text>
<text transform="translate(600.20,31.70) scale(1.0,1)" font-size="6.07" fill="#000" stroke="#000" stroke-width="0.06">Best Response</text>
<line x1="601.4" y1="40.00" x2="607.3" y2="40.00" stroke="#8F9BC9" stroke-width="1.5"/>
<text transform="translate(611.60,42.30) scale(1.0,1)" font-size="6.4" fill="#000" stroke="#000" stroke-width="0.06">CR</text>
<line x1="601.4" y1="47.75" x2="607.3" y2="47.75" stroke="#8DBBCB" stroke-width="1.5"/>
<text transform="translate(611.60,50.05) scale(1.0,1)" font-size="6.4" fill="#000" stroke="#000" stroke-width="0.06">PR</text>
<line x1="601.4" y1="55.50" x2="607.3" y2="55.50" stroke="#D78A9A" stroke-width="1.5"/>
<text transform="translate(611.60,57.80) scale(1.0,1)" font-size="6.4" fill="#000" stroke="#000" stroke-width="0.06">SD</text>
<line x1="601.4" y1="63.25" x2="607.3" y2="63.25" stroke="#5DBE9E" stroke-width="1.5"/>
<text transform="translate(611.60,65.55) scale(1.0,1)" font-size="6.4" fill="#000" stroke="#000" stroke-width="0.06">PD</text>
</svg>
</body></html>
